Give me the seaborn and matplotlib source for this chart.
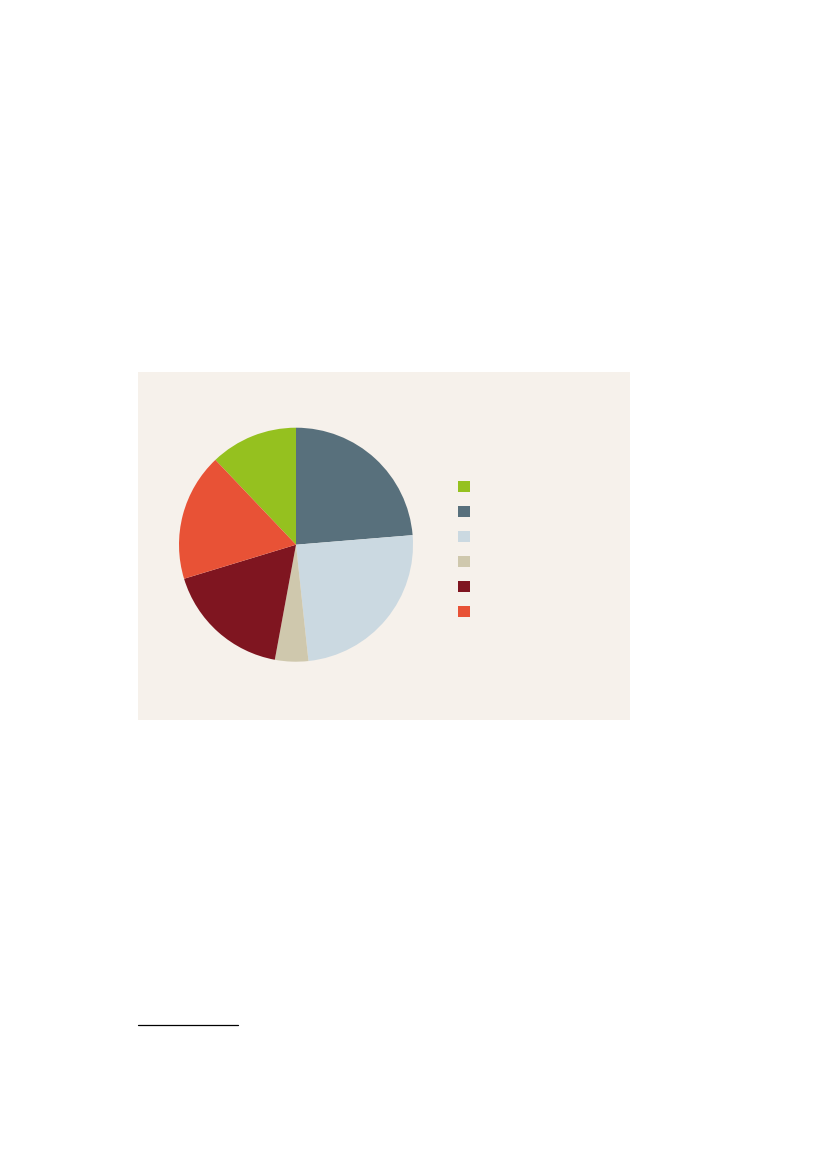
import seaborn as sns
import numpy as np
from matplotlib import pyplot as plt
from matplotlib.lines import Line2D

# slice shares (%), in legend order
shares = [12.1, 23.7, 24.6, 4.6, 17.4, 17.6]
slice_colors = ["#95C11F", "#58707C", "#CBD9E1", "#CFC8AD", "#7F1520", "#E85236"]
# the reference legend shows no label text
labels = ["", "", "", "", "", ""]

panel_color = "#F6F1EB"

sns.set_theme(style="white")
palette = sns.color_palette(slice_colors)

W, H = 827, 1169
fig = plt.figure(figsize=(W / 100, H / 100), dpi=100)
fig.patch.set_facecolor("white")

def px_axes(x0, y0, x1, y1):
    """axes from pixel box (top-left origin)"""
    return fig.add_axes([x0 / W, 1 - y1 / H, (x1 - x0) / W, (y1 - y0) / H])

# beige panel behind the chart
bg = px_axes(138, 372, 630, 720)
bg.set_facecolor(panel_color)
bg.set_xticks([])
bg.set_yticks([])
for s in bg.spines.values():
    s.set_visible(False)

# pie, centre ~ (296, 544.7), radius ~117 px
cx, cy, r = 296, 544.7, 117
ax = px_axes(cx - r, cy - r, cx + r, cy + r)
start = 90 + shares[0] / 100 * 360
wedges, _ = ax.pie(shares, colors=palette, startangle=start, counterclock=False,
                   wedgeprops=dict(linewidth=0))
ax.set_xlim(-1, 1)
ax.set_ylim(-1, 1)
ax.set_aspect("equal")
ax.axis("off")

# legend squares, no text
fs = 10
leg = fig.legend(wedges, labels, loc="upper left",
                 bbox_to_anchor=(458 / W, 1 - 480 / H),
                 frameon=False, fontsize=fs, borderpad=0, borderaxespad=0,
                 handlelength=0.864, handleheight=0.864, handletextpad=0,
                 labelspacing=0.8)

# footnote rule
fig.add_artist(Line2D([138 / W, 238 / W], [1 - 1025 / H, 1 - 1025 / H],
                      transform=fig.transFigure, color="black", linewidth=0.9))

fig.savefig("out.png", dpi=100, facecolor="white")
